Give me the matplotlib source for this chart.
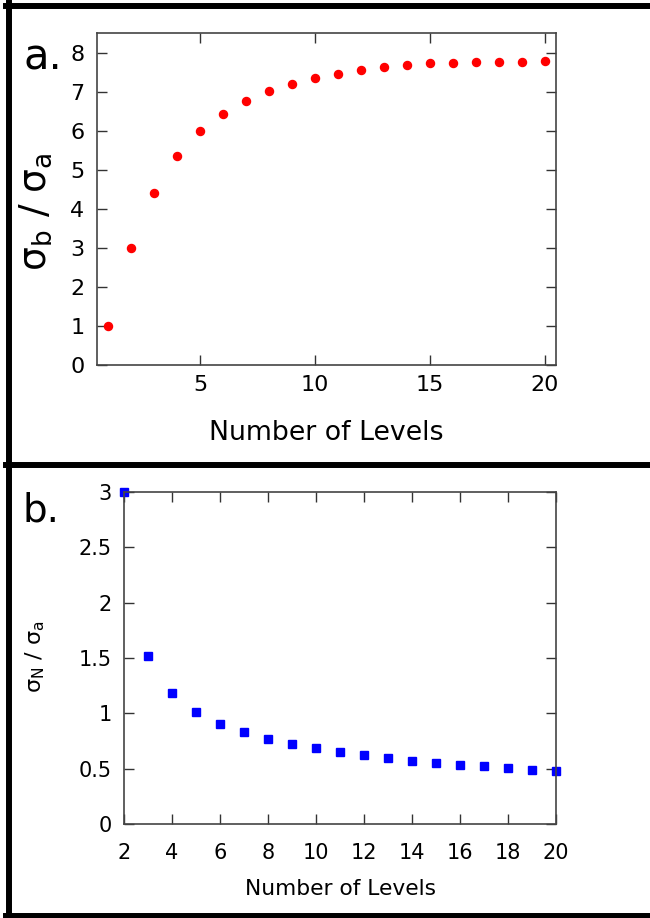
import matplotlib
matplotlib.use("Agg")
import matplotlib.pyplot as plt
from matplotlib.lines import Line2D

# panel a: sigma_b / sigma_a vs number of levels
levels_a = list(range(1, 21))
ratio_b = [1.0, 3.0, 4.41, 5.35, 5.98, 6.43, 6.75, 7.01, 7.20, 7.35,
           7.46, 7.55, 7.63, 7.68, 7.72, 7.74, 7.76, 7.77, 7.77, 7.78]

# panel b: sigma_N / sigma_a vs number of levels
levels_b = list(range(2, 21))
ratio_n = [3.0, 1.52, 1.18, 1.01, 0.906, 0.83, 0.77, 0.725, 0.685, 0.65,
           0.62, 0.595, 0.57, 0.55, 0.535, 0.52, 0.505, 0.49, 0.48]

xticks_a = [5, 10, 15, 20]
yticks_a = [0, 1, 2, 3, 4, 5, 6, 7, 8]
xticks_b = [2, 4, 6, 8, 10, 12, 14, 16, 18, 20]
yticks_b = [0, 0.5, 1, 1.5, 2, 2.5, 3]
ytick_labels_b = ["0", "0.5", "1", "1.5", "2", "2.5", "3"]

plt.rcParams['font.family'] = ['DejaVu Sans']
spine_col = "#444444"

fig = plt.figure(figsize=(6.5, 9.18), dpi=100)

#Top panel
ax1 = fig.add_axes([97/650, 1-365/918, 459/650, 332/918])
ax1.plot(levels_a, ratio_b, "o", color="#ff0000", markersize=5.8, clip_on=False)
ax1.set_xlim(0.5, 20.5)
ax1.set_ylim(0, 8.5)
ax1.set_xticks(xticks_a)
ax1.set_yticks(yticks_a)
ax1.tick_params(direction="in", length=7, width=1.0, color="#333333",
                top=True, right=True, labelsize=16)
ax1.tick_params(axis="y", pad=9)
ax1.tick_params(axis="x", pad=7)
ax1.set_xlabel("Number of Levels", fontsize=19.3, va="center")
ax1.xaxis.set_label_coords(0.499, -0.205)
ax1.set_ylabel(r"$\mathregular{\sigma_b\ /\ \sigma_a}$", fontsize=27, va="center")
ax1.yaxis.set_label_coords(-0.133, 0.461)
for s in ax1.spines.values():
    s.set_color(spine_col)
    s.set_linewidth(1.2)

#Bottom panel
ax2 = fig.add_axes([124/650, 1-824/918, 432/650, 332/918])
ax2.plot(levels_b, ratio_n, "s", color="#0000ff", markersize=5.3, clip_on=False)
ax2.set_xlim(2, 20)
ax2.set_ylim(0, 3)
ax2.set_xticks(xticks_b)
ax2.set_yticks(yticks_b)
ax2.set_yticklabels(ytick_labels_b)
ax2.tick_params(direction="in", length=7, width=1.0, color="#333333",
                top=True, right=True, labelsize=15)
ax2.tick_params(axis="y", pad=9)
ax2.tick_params(axis="x", pad=14)
ax2.set_xlabel("Number of Levels", fontsize=15.7, va="center")
ax2.xaxis.set_label_coords(0.502, -0.196)
ax2.set_ylabel(r"$\mathregular{\sigma_N\ /\ \sigma_a}$", fontsize=16, va="center")
ax2.yaxis.set_label_coords(-0.206, 0.503)
for s in ax2.spines.values():
    s.set_color(spine_col)
    s.set_linewidth(1.2)

#Panel letters
fig.text(23/650, 1-70/918, "a.", fontsize=30, va="baseline")
fig.text(23/650, 1-522/918, "b.", fontsize=28, va="baseline")

#Black frame lines
lw = 4.3
fig.add_artist(Line2D([8.5/650, 8.5/650], [1-3/918, 1-918/918], color="black", lw=lw))
fig.add_artist(Line2D([6/650, 1.0], [1-6/918, 1-6/918], color="black", lw=lw))
fig.add_artist(Line2D([6/650, 1.0], [1-465/918, 1-465/918], color="black", lw=lw))
fig.add_artist(Line2D([6/650, 1.0], [1-915.5/918, 1-915.5/918], color="black", lw=lw))

fig.savefig("out.png", dpi=100)
